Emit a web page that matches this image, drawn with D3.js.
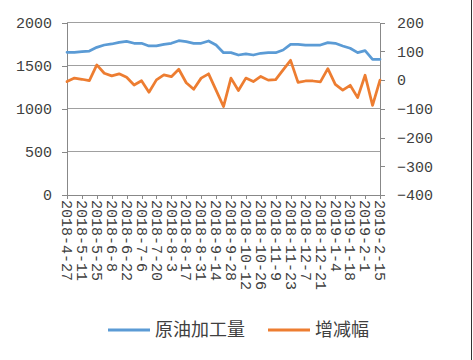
<!DOCTYPE html>
<html><head><meta charset="utf-8">
<script src="https://cdn.jsdelivr.net/npm/d3@7"></script>
<style>
html,body{margin:0;padding:0;background:#fff;}
svg{display:block;}
</style></head>
<body>
<svg id="chart" width="473" height="360"></svg>
<script>
const dates = ["2018-4-27","2018-5-4","2018-5-11","2018-5-18","2018-5-25","2018-6-1","2018-6-8","2018-6-15","2018-6-22","2018-6-29","2018-7-6","2018-7-13","2018-7-20","2018-7-27","2018-8-3","2018-8-10","2018-8-17","2018-8-24","2018-8-31","2018-9-7","2018-9-14","2018-9-21","2018-9-28","2018-10-5","2018-10-12","2018-10-19","2018-10-26","2018-11-2","2018-11-9","2018-11-16","2018-11-23","2018-11-30","2018-12-7","2018-12-14","2018-12-21","2018-12-28","2019-1-4","2019-1-11","2019-1-18","2019-1-25","2019-2-1","2019-2-8","2019-2-15"];
const crudeRuns = [1656,1656,1663,1671,1714,1741,1753,1772,1784,1761,1761,1730,1730,1749,1761,1791,1780,1761,1761,1788,1741,1652,1652,1625,1637,1625,1645,1652,1652,1683,1749,1749,1741,1741,1741,1768,1761,1730,1703,1652,1675,1575,1575];
const change = [-5,7,3,-2,53,24,15,22,10,-17,-2,-42,1,18,12,38,-9,-32,7,22,-35,-92,7,-36,7,-5,13,0,2,36,69,-8,-3,-3,-6,40,-15,-35,-18,-61,17,-88,0];
const tickLabels = ["2018-4-27","2018-5-11","2018-5-25","2018-6-8","2018-6-22","2018-7-6","2018-7-20","2018-8-3","2018-8-17","2018-8-31","2018-9-14","2018-9-28","2018-10-12","2018-10-26","2018-11-9","2018-11-23","2018-12-7","2018-12-21","2019-1-4","2019-1-18","2019-2-1","2019-2-15"];
const leftTicks = [0,500,1000,1500,2000];
const rightTicks = [-400,-300,-200,-100,0,100,200];
const seriesNames = ["原油加工量","增减幅"];
const colors = ["#5b9bd5","#ed7d31"];

const svg = d3.select("#chart");
const L = 67, R = 380, T = 22.7, B = 195;
const axisFont = "'Liberation Mono', monospace";
const textColor = "#404040";

const x = d3.scalePoint().domain(dates).range([L, R]);
const yL = d3.scaleLinear().domain([0, 2000]).range([B, T]);
const yR = d3.scaleLinear().domain([-400, 200]).range([B, T]);

// gridlines
svg.append("g").selectAll("line").data(leftTicks.filter(d => d > 0)).join("line")
  .attr("x1", L).attr("x2", R).attr("y1", d => yL(d)).attr("y2", d => yL(d))
  .attr("stroke", "#a0a0a0").attr("stroke-width", 1).attr("shape-rendering", "crispEdges");

// left axis
const gl = svg.append("g").attr("transform", `translate(${L},0)`)
  .call(d3.axisLeft(yL).tickValues(leftTicks).tickSize(5).tickPadding(10).tickFormat(d3.format("d")));
// right axis
const gr = svg.append("g").attr("transform", `translate(${R},0)`)
  .call(d3.axisRight(yR).tickValues(rightTicks).tickSize(5).tickPadding(12).tickFormat(d3.format("d")));
// bottom axis
const gb = svg.append("g").attr("transform", `translate(0,${B})`)
  .call(d3.axisBottom(x).tickValues(tickLabels).tickSize(4).tickSizeOuter(0));

[gl, gr, gb].forEach(g => {
  g.select(".domain").attr("stroke", "#888").attr("shape-rendering", "crispEdges");
  g.selectAll(".tick line").attr("stroke", "#888").attr("shape-rendering", "crispEdges");
  g.selectAll(".tick text").attr("fill", textColor).style("font-family", axisFont).style("font-size", "15px");
});
gb.select(".domain").attr("d", `M${L},0H${R}`);
gb.selectAll(".tick text")
  .attr("transform", "rotate(90)")
  .attr("text-anchor", "start")
  .attr("x", 5).attr("y", 0).attr("dy", "0.35em");

// lines
const lineL = d3.line().x((d, i) => x(dates[i])).y(d => yL(d));
const lineR = d3.line().x((d, i) => x(dates[i])).y(d => yR(d));
svg.append("path").datum(crudeRuns).attr("d", lineL).attr("fill", "none")
  .attr("stroke", colors[0]).attr("stroke-width", 2.75).attr("stroke-linejoin", "round").attr("stroke-linecap", "round");
svg.append("path").datum(change).attr("d", lineR).attr("fill", "none")
  .attr("stroke", colors[1]).attr("stroke-width", 2.75).attr("stroke-linejoin", "round").attr("stroke-linecap", "round");

// legend
const legendItems = [{x: 108, tx: 155}, {x: 268, tx: 315}];
const lg = svg.append("g");
legendItems.forEach((p, i) => {
  lg.append("line").attr("x1", p.x).attr("x2", p.x + 42).attr("y1", 330).attr("y2", 330)
    .attr("stroke", colors[i]).attr("stroke-width", 3);
  lg.append("text").attr("x", p.tx).attr("y", 330).attr("dy", "0.36em")
    .attr("fill", textColor).style("font-family", "'Noto Sans CJK SC', sans-serif").style("font-size", "18px")
    .text(seriesNames[i]);
});

// chart border
svg.append("line").attr("x1", 471).attr("x2", 471).attr("y1", 0).attr("y2", 360)
  .attr("stroke", "#333").attr("shape-rendering", "crispEdges");
</script>
</body></html>
